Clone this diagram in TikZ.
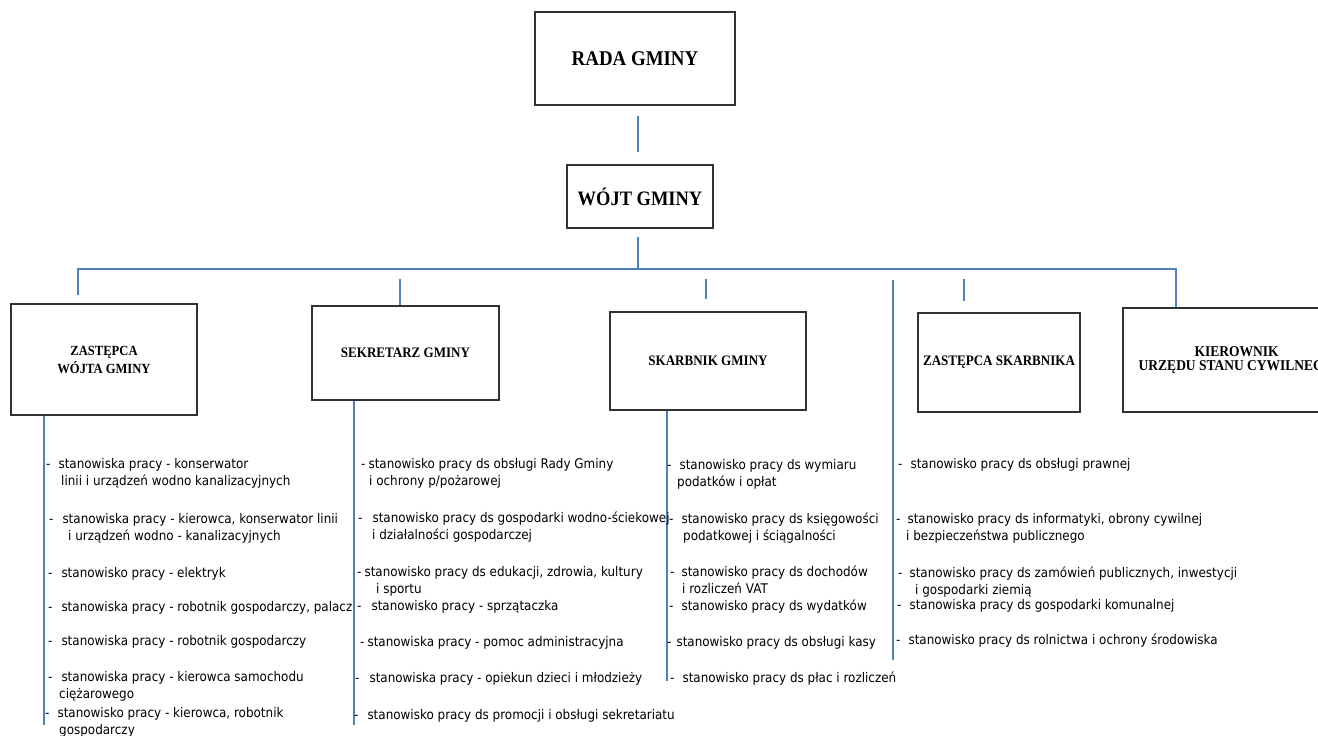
\documentclass[tikz,border=0pt]{standalone}
\usepackage{fontspec}
\usetikzlibrary{calc}
\newfontfamily\lst{DejaVu Sans}[FakeStretch=0.9]
\newfontfamily\hdr{Liberation Serif}[FakeStretch=0.9]
\definecolor{conncol}{RGB}{79,129,189}
\definecolor{boxcol}{RGB}{50,50,50}
\tikzset{
  conn/.style={draw=conncol, line width=1.2pt},
  box/.style={draw=boxcol, line width=1.5pt, fill=white, inner sep=0pt, align=center, font=\hdr\bfseries},
  item/.style={anchor=base west, inner sep=0pt, align=left, font={\lst\fontsize{13.3}{17.5}\selectfont}}
}
\begin{document}
\begin{tikzpicture}[x=1pt,y=-1pt]
\useasboundingbox (0,0) rectangle (1318,736);
\clip (0,0) rectangle (1318,736);
% boxes
\node[box, minimum width=200, minimum height=93, font={\hdr\bfseries\fontsize{21}{24}\selectfont}] (rada) at (635,58.5) {RADA GMINY};
\node[box, minimum width=146, minimum height=63, font={\hdr\bfseries\fontsize{20.5}{24}\selectfont}] (wojt) at (640,196.5) {WÓJT GMINY};
\node[box, minimum width=186, minimum height=111, font={\hdr\bfseries\fontsize{14}{18}\selectfont}] (zw) at (104,359.5) {ZASTĘPCA\\WÓJTA GMINY};
\node[box, minimum width=187, minimum height=94, font={\hdr\bfseries\fontsize{14.5}{18}\selectfont}] (sek) at (405.5,353) {SEKRETARZ GMINY};
\node[box, minimum width=196, minimum height=98, font={\hdr\bfseries\fontsize{14.5}{18}\selectfont}] (skarb) at (708,361) {SKARBNIK GMINY};
\node[box, minimum width=162, minimum height=99, font={\hdr\bfseries\fontsize{14.5}{18}\selectfont}] (zsk) at (999,362.5) {ZASTĘPCA SKARBNIKA};
\node[box, minimum width=227, minimum height=104, font={\hdr\bfseries\fontsize{15}{14.5}\selectfont}] (kier) at (1236.5,360) {KIEROWNIK\\URZĘDU STANU CYWILNEGO};
% connectors
\coordinate (busL) at (78,269);
\coordinate (busR) at (1176,269);
\coordinate (zwtop) at (78,295);
\coordinate (sepTop) at (893,280);
\coordinate (sepBot) at (893,660);
\draw[conn] ($(rada.south)+(3,10)$) -- ($(wojt.north)+(-2,-12)$);
\draw[conn] ($(wojt.south)+(-2,8)$) -- ($(wojt.south)+(-2,41)$);
\draw[conn] (zwtop) -- (busL) -- (busR) -- (busR |- kier.north);
\draw[conn] ($(sek.north)+(-5.5,-26)$) -- ($(sek.north)+(-5.5,0)$);
\draw[conn] ($(skarb.north)+(-2,-32)$) -- ($(skarb.north)+(-2,-12)$);
\draw[conn] (sepTop) -- (sepBot);
\draw[conn] ($(zsk.north)+(-35,-33)$) -- ($(zsk.north)+(-35,-11)$);
\draw[conn] ($(zw.south)+(-60,0)$) -- ($(zw.south)+(-60,309)$);
\draw[conn] ($(sek.south)+(-51.5,0)$) -- ($(sek.south)+(-51.5,324)$);
\draw[conn] ($(skarb.south)+(-41,0)$) -- ($(skarb.south)+(-41,270)$);
% column 1
\node[item] (c1a) at (46,485.5) {-\hspace*{8pt}stanowiska pracy - konserwator\\\hspace*{15pt}linii i urządzeń wodno kanalizacyjnych};
\node[item] (c1b) at (49,540.5) {-\hspace*{9pt}stanowiska pracy - kierowca, konserwator linii\\\hspace*{19pt}i urządzeń wodno - kanalizacyjnych};
\node[item] (c1c) at (48,577) {-\hspace*{9pt}stanowisko pracy - elektryk};
\node[item] (c1d) at (48,611) {-\hspace*{9pt}stanowiska pracy - robotnik gospodarczy, palacz};
\node[item] (c1e) at (48,645) {-\hspace*{9pt}stanowiska pracy - robotnik gospodarczy};
\node[item] (c1f) at (48,698.5) {-\hspace*{9pt}stanowiska pracy - kierowca samochodu\\\hspace*{11pt}ciężarowego};
\node[item] (c1g) at (45,734.5) {-\hspace*{8pt}stanowisko pracy - kierowca, robotnik\\\hspace*{14pt}gospodarczy};
% column 2
\node[item] (c2a) at (361,485.5) {-\hspace*{3pt}stanowisko pracy ds obsługi Rady Gminy\\\hspace*{8pt}i ochrony p/pożarowej};
\node[item] (c2b) at (358,539.5) {-\hspace*{10pt}stanowisko pracy ds gospodarki wodno-ściekowej\\\hspace*{14pt}i działalności gospodarczej};
\node[item] (c2c) at (357,593.5) {-\hspace*{3pt}stanowisko pracy ds edukacji, zdrowia, kultury\\\hspace*{19pt}i sportu};
\node[item] (c2d) at (357,610) {-\hspace*{10pt}stanowisko pracy - sprzątaczka};
\node[item] (c2e) at (360,646) {-\hspace*{3pt}stanowiska pracy - pomoc administracyjna};
\node[item] (c2f) at (355,682) {-\hspace*{10pt}stanowiska pracy - opiekun dzieci i młodzieży};
\node[item] (c2g) at (354,719) {-\hspace*{9pt}stanowisko pracy ds promocji i obsługi sekretariatu};
% column 3
\node[item] (c3a) at (667,486.5) {-\hspace*{8pt}stanowisko pracy ds wymiaru\\\hspace*{10pt}podatków i opłat};
\node[item] (c3b) at (669,540.5) {-\hspace*{8pt}stanowisko pracy ds księgowości\\\hspace*{14pt}podatkowej i ściągalności};
\node[item] (c3c) at (670,593.5) {-\hspace*{7pt}stanowisko pracy ds dochodów\\\hspace*{12pt}i rozliczeń VAT};
\node[item] (c3d) at (669,610) {-\hspace*{8pt}stanowisko pracy ds wydatków};
\node[item] (c3e) at (667,646) {-\hspace*{5pt}stanowisko pracy ds obsługi kasy};
\node[item] (c3f) at (670,682) {-\hspace*{8pt}stanowisko pracy ds płac i rozliczeń};
% column 4
\node[item] (c4a) at (898,468) {-\hspace*{8pt}stanowisko pracy ds obsługi prawnej};
\node[item] (c4b) at (896,540.5) {-\hspace*{7pt}stanowisko pracy ds informatyki, obrony cywilnej\\\hspace*{10pt}i bezpieczeństwa publicznego};
\node[item] (c4c) at (898,594.5) {-\hspace*{7pt}stanowisko pracy ds zamówień publicznych, inwestycji\\\hspace*{17pt}i gospodarki ziemią};
\node[item] (c4d) at (897,609) {-\hspace*{8pt}stanowiska pracy ds gospodarki komunalnej};
\node[item] (c4e) at (896,644) {-\hspace*{8pt}stanowisko pracy ds rolnictwa i ochrony środowiska};
\end{tikzpicture}
\end{document}
